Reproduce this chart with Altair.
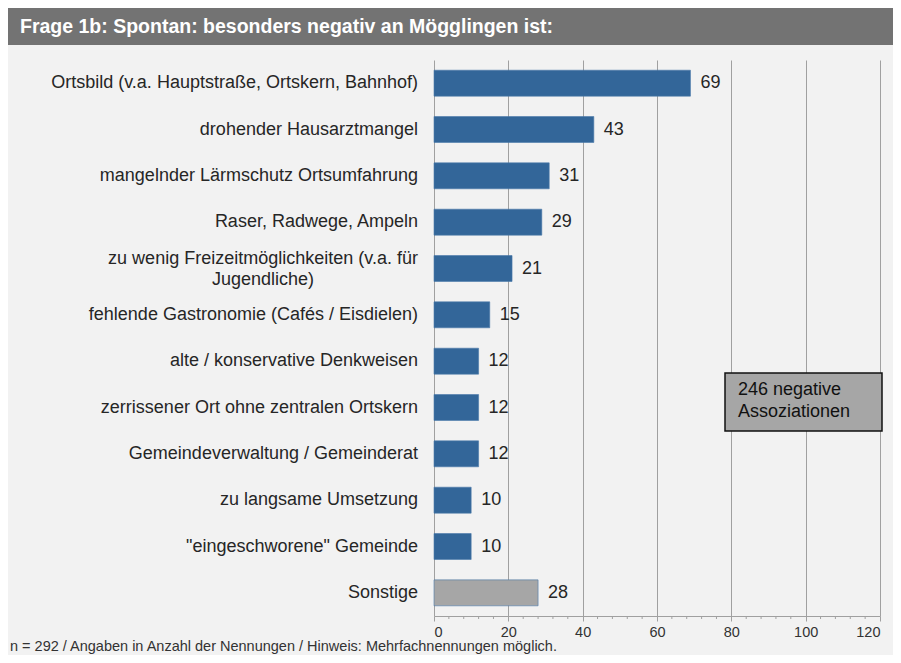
import altair as alt
import pandas as pd

categories = [
    "Ortsbild (v.a. Hauptstraße, Ortskern, Bahnhof)",
    "drohender Hausarztmangel",
    "mangelnder Lärmschutz Ortsumfahrung",
    "Raser, Radwege, Ampeln",
    "zu wenig Freizeitmöglichkeiten (v.a. für\nJugendliche)",
    "fehlende Gastronomie (Cafés / Eisdielen)",
    "alte / konservative Denkweisen",
    "zerrissener Ort ohne zentralen Ortskern",
    "Gemeindeverwaltung / Gemeinderat",
    "zu langsame Umsetzung",
    "\"eingeschworene\" Gemeinde",
    "Sonstige",
]
values = [69, 43, 31, 29, 21, 15, 12, 12, 12, 10, 10, 28]
groups = ["main"] * 11 + ["other"]
multiline = [False, False, False, False, True, False, False, False, False, False, False, False]

major_ticks = [0, 20, 40, 60, 80, 100, 120]
minor_ticks = [4, 8, 12, 16, 24, 28, 32, 36, 44, 48, 52, 56, 64, 68, 72, 76,
               84, 88, 92, 96, 104, 108, 112, 116]

title_text = "Frage 1b: Spontan: besonders negativ an Mögglingen ist:"
footnote_text = "n = 292 /  Angaben in Anzahl der Nennungen   / Hinweis: Mehrfachnennungen  möglich."
box_text = "246 negative\nAssoziationen"

df = pd.DataFrame({"cat": categories, "val": values, "grp": groups, "ml": multiline})

W, H = 446, 556
FONT = "Liberation Sans"

y_enc = alt.Y("cat:N", sort=categories, axis=None,
              scale=alt.Scale(paddingInner=0.44, paddingOuter=0.22))
x_scale = alt.Scale(domain=[0, 120], nice=False)

base = alt.Chart(df)

bars = base.mark_bar(stroke="#4a78aa", strokeWidth=0.6).encode(
    x=alt.X("val:Q", scale=x_scale,
            axis=alt.Axis(values=major_ticks, grid=True, gridColor="#a0a0a0",
                          gridWidth=1, domainColor="#a0a0a0", tickColor="#a0a0a0",
                          tickSize=5, labelFont=FONT, labelFontSize=14.5,
                          labelColor="#333333", labelPadding=4, title=None)),
    y=y_enc,
    color=alt.Color("grp:N", scale=alt.Scale(domain=["main", "other"],
                                             range=["#336699", "#a6a6a6"]), legend=None),
)

val_labels = base.mark_text(align="left", baseline="middle", dx=10, font=FONT,
                            fontSize=18, color="#262626").encode(
    x=alt.X("val:Q", scale=x_scale), y=y_enc, text="val:Q")

cat_labels = base.transform_filter("!datum.ml").mark_text(
    align="right", baseline="middle", font=FONT, fontSize=18, color="#262626"
).encode(x=alt.value(-16), y=y_enc, text="cat:N")

cat_labels_ml = base.transform_filter("datum.ml").mark_text(
    align="center", baseline="middle", font=FONT, fontSize=18, color="#262626",
    lineBreak="\n", lineHeight=21, dy=-10
).encode(x=alt.value(-171), y=y_enc, text="cat:N")

minor = alt.Chart(pd.DataFrame({"t": minor_ticks})).mark_rule(
    color="#a0a0a0", strokeWidth=1
).encode(x=alt.X("t:Q", scale=x_scale), y=alt.value(H), y2=alt.value(H + 3))

one = pd.DataFrame({"a": [0]})
title_bar = alt.Chart(one).mark_rect(color="#737373").encode(
    x=alt.value(-426), x2=alt.value(459), y=alt.value(-52), y2=alt.value(-15))
title = alt.Chart(one).mark_text(
    align="left", baseline="middle", font=FONT, fontSize=19.5, fontWeight="bold",
    color="white").encode(x=alt.value(-414), y=alt.value(-33), text=alt.value(title_text))

box = alt.Chart(one).mark_rect(fill="#a6a6a6", stroke="#111111", strokeWidth=1.5).encode(
    x=alt.value(291), x2=alt.value(448), y=alt.value(313), y2=alt.value(371))
box_label = alt.Chart(one).mark_text(
    align="left", baseline="top", font=FONT, fontSize=18, color="#111111",
    lineBreak="\n", lineHeight=22).encode(
    x=alt.value(304), y=alt.value(321), text=alt.value(box_text))

foot = alt.Chart(one).mark_text(
    align="left", baseline="middle", font=FONT, fontSize=14.5, color="#333333").encode(
    x=alt.value(-424), y=alt.value(587), text=alt.value(footnote_text))

chart = alt.layer(
    bars, minor, val_labels, cat_labels, cat_labels_ml,
    title_bar, title, box, box_label, foot
).properties(
    width=W, height=H,
    autosize=alt.AutoSizeParams(type="none"),
    padding={"left": 426, "top": 52, "right": 13, "bottom": 39},
    background="#f2f2f2",
).configure_view(stroke=None)

chart.save("out.html", embed_options={"renderer": "svg", "actions": False})
